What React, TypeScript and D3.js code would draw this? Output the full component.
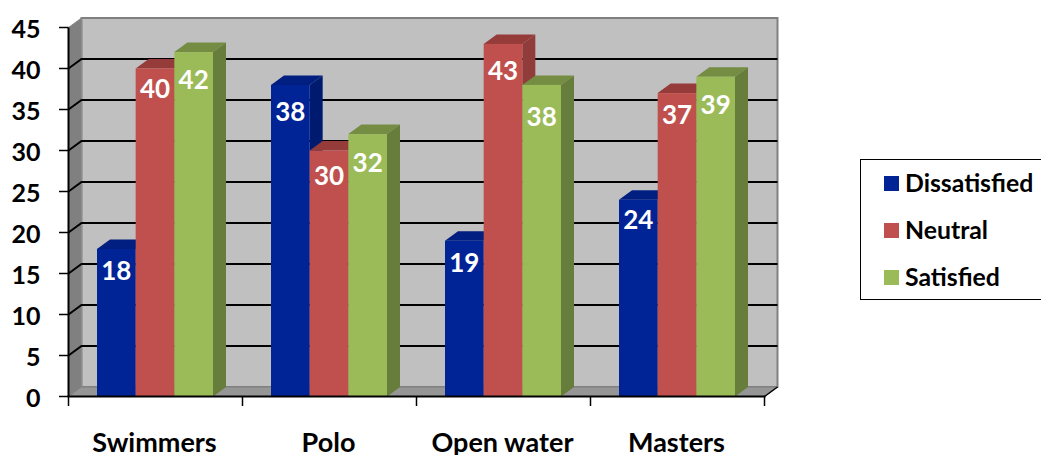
import React from "react";
import * as d3 from "d3";

const categories = ["Swimmers", "Polo", "Open water", "Masters"];
const seriesNames = ["Dissatisfied", "Neutral", "Satisfied"];
const dissatisfied = [18, 38, 19, 24];
const neutral = [40, 30, 43, 37];
const satisfied = [42, 32, 38, 39];
const yTicks = d3.range(0, 50, 5);

const front = ["#002395", "#C0504D", "#9BBB59"];
const side = ["#001A70", "#8F3C3A", "#677D3B"];
const top = ["#001F80", "#953B39", "#748D43"];

// Vertical nudge of each value label below its bar's front edge, per series then category.
const labelDrop = [
  [22, 27, 22, 20],
  [20, 25, 27, 22],
  [28, 29, 32, 28],
];

const depthX = 13;
const depthY = -9.5;
const FONT = "Lato, Carlito, sans-serif";

export default function App() {
  const x = d3.scaleBand<string>().domain(categories).range([68.5, 764.5]);
  const y = d3.scaleLinear().domain([0, 45]).range([396.5, 27.5]);
  const inner = d3.scaleBand<string>().domain(seriesNames).range([28.5, 144.5]);
  const values = [dissatisfied, neutral, satisfied];
  const poly = (pts: [number, number][]) => pts.map((p) => p.join(",")).join(" ");

  const x0 = x.range()[0];
  const x1 = x.range()[1];
  const y0 = y(0);
  const yT = y(45);

  return (
    <svg
      width={1041}
      height={455}
      style={{ position: "absolute", left: 0, top: 0, background: "#fff" }}
      fontFamily={FONT}
    >
      {/* Chart walls and floor */}
      <polygon
        points={poly([[x0 + depthX, yT + depthY], [x1 + depthX, yT + depthY], [x1 + depthX, y0 + depthY], [x0 + depthX, y0 + depthY]])}
        fill="#C0C0C0"
        stroke="#808080"
        strokeWidth={2}
      />
      <polygon
        points={poly([[x0, yT], [x0 + depthX, yT + depthY], [x0 + depthX, y0 + depthY], [x0, y0]])}
        fill="#808080"
        stroke="#8c8c8c"
        strokeWidth={1}
      />
      <polygon
        points={poly([[x0, y0], [x0 + depthX, y0 + depthY], [x1 + depthX, y0 + depthY], [x1, y0]])}
        fill="#969696"
        stroke="#808080"
        strokeWidth={1}
      />

      {/* Gridlines across the side and back walls */}
      {yTicks.filter((t) => t > 0 && t < 45).map((t) => (
        <polyline
          key={t}
          points={poly([[x0, y(t)], [x0 + depthX, y(t) + depthY], [x1 + depthX, y(t) + depthY]])}
          fill="none"
          stroke="#000"
          strokeWidth={2}
        />
      ))}

      {/* Bars */}
      {categories.map((c, ci) =>
        seriesNames.map((s, si) => {
          const l = x(c)! + inner(s)!;
          const r = l + inner.bandwidth();
          const t = y(values[si][ci]);
          return (
            <g key={c + s}>
              <polygon points={poly([[l, t], [l + depthX, t + depthY], [r + depthX, t + depthY], [r, t]])} fill={top[si]} />
              <polygon points={poly([[r, t], [r + depthX, t + depthY], [r + depthX, y0 + depthY], [r, y0]])} fill={side[si]} />
              <rect x={l} y={t} width={r - l} height={y0 - t} fill={front[si]} />
            </g>
          );
        })
      )}

      {/* Value labels */}
      {categories.map((c, ci) =>
        seriesNames.map((s, si) => (
          <text
            key={c + s}
            x={x(c)! + inner(s)! + inner.bandwidth() / 2}
            y={y(values[si][ci]) + labelDrop[si][ci]}
            dy="0.35em"
            textAnchor="middle"
            fill="#fff"
            fontSize={26}
            fontWeight={700}
          >
            {values[si][ci]}
          </text>
        ))
      )}

      {/* Axes */}
      <line x1={x0} x2={x0} y1={yT} y2={y0} stroke="#000" strokeWidth={2} />
      <line x1={x0 - 1} x2={x1 + 1} y1={y0} y2={y0} stroke="#000" strokeWidth={2} />
      <line x1={x1} x2={x1 + depthX} y1={y0} y2={y0 + depthY} stroke="#000" strokeWidth={1.5} />
      {yTicks.map((t) => (
        <g key={t}>
          <line x1={59} x2={x0} y1={y(t)} y2={y(t)} stroke="#000" strokeWidth={1.5} />
          <text x={40.5} y={y(t) + 1.5} dy="0.36em" textAnchor="end" fontSize={25} fontWeight={700} fill="#000">
            {t}
          </text>
        </g>
      ))}
      {[...categories.map((c) => x(c)!), x1].map((px) => (
        <line key={px} x1={px} x2={px} y1={y0} y2={406} stroke="#000" strokeWidth={1.5} />
      ))}
      {categories.map((c) => (
        <text
          key={c}
          x={x(c)! + x.bandwidth() / 2 - 1}
          y={451.5}
          textAnchor="middle"
          fontSize={27}
          fontWeight={700}
          fill="#000"
        >
          {c}
        </text>
      ))}

      {/* Legend */}
      <rect x={860.5} y={159.5} width={181} height={140} fill="#fff" stroke="#000" strokeWidth={1} />
      {seriesNames.map((s, i) => (
        <g key={s}>
          <rect x={884} y={176 + i * 47} width={15} height={15} fill={front[i]} />
          <text x={905} y={183 + i * 47} dy="0.35em" fontSize={24.8} fontWeight={700} fill="#000">
            {s}
          </text>
        </g>
      ))}
    </svg>
  );
}
